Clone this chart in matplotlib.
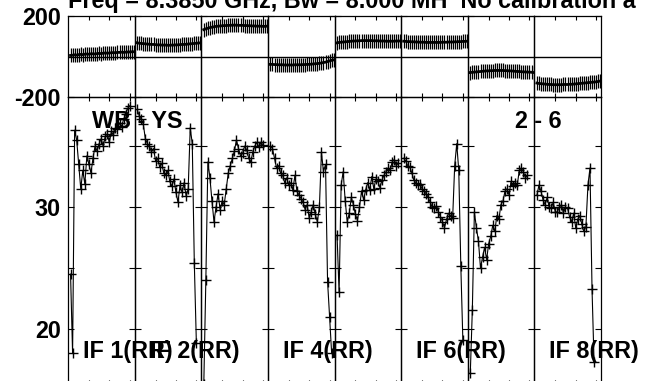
import numpy as np
import matplotlib
matplotlib.use("Agg")
from matplotlib import pyplot as plt

plt.rcParams['font.family'] = ['Liberation Sans', 'DejaVu Sans']
plt.rcParams['font.weight'] = 'bold'
plt.rcParams['axes.unicode_minus'] = False

nan = np.nan
chan = np.arange(1, 33)

# phase (deg) per channel, one list per IF
phase_if1 = [6, 7, 9, 8, 10, 11, 10, 12, 13, 12, 14, 14, 13, 15, 16, 15, 17, 18, 17, 18, 19, 20, 19, 21, 21, 22, 21, 22, 23, 23, 24, 24]
phase_if2 = [68, 66, 65, 64, 63, 62, 61, 60, 60, 59, 58, 58, 57, 57, 57, 56, 56, 57, 57, 58, 58, 59, 60, 60, 61, 62, 63, 64, 65, 66, 67, 68]
phase_if3 = [133, 137, 140, 143, 145, 147, 149, 150, 151, 152, 153, 153, 154, 154, 155, 155, 155, 154, 154, 154, 153, 153, 152, 152, 151, 151, 150, 150, 150, 149, 149, 150]
phase_if4 = [-38, -38, -39, -39, -40, -40, -40, -41, -41, -41, -41, -41, -40, -40, -40, -40, -39, -39, -38, -38, -37, -36, -35, -34, -33, -31, -29, -27, -24, -21, -18, -16]
phase_if5 = [68, 70, 71, 72, 73, 74, 75, 76, 77, 77, 78, 78, 79, 79, 79, 79, 79, 79, 78, 78, 78, 77, 77, 77, 76, 76, 76, 76, 76, 77, 77, 77]
phase_if6 = [76, 75, 74, 74, 73, 73, 72, 72, 71, 71, 71, 70, 70, 70, 70, 70, 70, 70, 70, 71, 71, 71, 72, 72, 72, 73, 73, 74, 74, 75, 75, 76]
phase_if7 = [-78, -77, -76, -75, -74, -73, -72, -71, -70, -70, -69, -69, -68, -68, -68, -68, -68, -69, -69, -70, -70, -71, -72, -73, -73, -74, -75, -75, -76, -76, -77, -78]
phase_if8 = [-130, -132, -133, -134, -135, -136, -137, -137, -138, -138, -138, -138, -138, -137, -137, -137, -136, -136, -135, -134, -133, -132, -131, -130, -129, -128, -127, -126, -125, -124, -122, -120]

# amplitude per channel, one list per IF
amp_if1 = [24.5, 18.0, 36.3, 35.5, 33.5, 31.5, 33.0, 31.9, 34.2, 33.5, 32.8, 34.0, 35.0, 34.6, 35.2, 35.6, 35.0, 35.8, 36.0, 35.3, 36.2, 35.9, 36.5, 36.4, 36.9, 36.6, 37.2, 37.6, 38.1, 38.3, nan, nan]
amp_if2 = [38.0, 37.5, 37.2, 36.8, 35.6, 35.2, 35.0, 34.5, 34.8, 33.8, 34.0, 33.3, 33.6, 32.8, 32.6, 33.0, 32.1, 31.7, 32.3, 31.2, 30.4, 31.8, 31.2, 32.0, 30.9, 31.5, 36.5, 35.2, 25.4, 18.9, nan, nan]
amp_if3 = [15.5, 24.0, 33.7, 32.4, 30.5, 28.8, 30.0, 31.1, 29.8, 30.5, 30.2, 31.5, 32.8, 33.4, 34.0, 34.6, 35.5, 34.8, 34.2, 34.4, 35.0, 34.7, 34.0, 33.7, 34.5, 35.0, 35.3, 34.9, 35.3, 35.1, nan, nan]
amp_if4 = [35.0, 34.8, 34.0, 33.2, 33.4, 32.8, 32.6, 32.0, 32.4, 31.8, 32.0, 31.4, 32.6, 31.3, 31.0, 30.7, 30.4, 29.8, 30.2, 29.1, 29.6, 30.2, 29.4, 28.8, 30.0, 34.5, 32.9, 33.5, 23.9, 21.0, 18.0, nan]
amp_if5 = [27.7, 23.0, 31.8, 32.9, 30.5, 28.8, 29.5, 30.8, 30.2, 29.4, 28.9, 30.0, 31.3, 30.6, 31.4, 32.0, 31.4, 32.5, 31.5, 32.3, 32.1, 31.6, 32.2, 32.6, 32.9, 33.2, 33.0, 33.7, 33.9, 33.4, 33.6, nan]
amp_if6 = [34.0, 33.8, 33.4, 33.3, 32.8, 32.2, 32.0, 31.8, 31.9, 31.5, 31.3, 31.1, 30.8, 30.4, 30.0, 29.9, 30.1, 29.6, 29.2, 28.8, 28.3, 29.0, 29.5, 29.3, 29.1, 33.4, 35.2, 33.0, 25.2, 19.1, nan, nan]
amp_if7 = [16.4, 21.6, 29.6, 28.3, 27.2, 25.0, 25.9, 26.7, 25.7, 27.0, 27.6, 28.5, 28.0, 29.3, 29.0, 30.2, 30.5, 31.3, 31.5, 31.0, 32.1, 31.7, 32.0, 31.8, 33.0, 33.2, 32.9, 32.4, 32.6, nan, nan, nan]
amp_if8 = [31.0, 31.8, 31.3, 30.6, 30.2, 30.8, 30.0, 29.9, 30.4, 29.6, 29.6, 30.0, 30.2, 29.5, 30.0, 29.9, 29.2, 28.8, 29.5, 28.3, 29.0, 29.3, 28.6, 28.0, 28.4, 31.8, 33.2, 23.3, 17.3, nan, nan, nan]

phases = [phase_if1, phase_if2, phase_if3, phase_if4, phase_if5, phase_if6, phase_if7, phase_if8]
amps = [amp_if1, amp_if2, amp_if3, amp_if4, amp_if5, amp_if6, amp_if7, amp_if8]
if_labels = ["IF 1(RR)", "IF 2(RR)", "", "IF 4(RR)", "", "IF 6(RR)", "", "IF 8(RR)"]
chan_ticks = [10, 20, 30]
phase_ticks = [-200, 200]
amp_ticks = [20, 30]
amp_minor = [25, 35]

W, H = 645, 381
fig = plt.figure(figsize=(W / 100, H / 100), dpi=100)

x0, pw = 68, 66.625
fs = 16.8
for i in range(8):
    left = (x0 + i * pw) / W
    axp = fig.add_axes([left, 1 - 97.3 / H, pw / W, 81.3 / H])
    axa = fig.add_axes([left, 1 - 384 / H, pw / W, 286.7 / H])
    for ax in (axp, axa):
        ax.set_facecolor('none')
        ax.set_xlim(-0.25, 32.4)
        ax.set_xticks(chan_ticks)
        ax.set_xticklabels([])
        for s in ax.spines.values():
            s.set_linewidth(0.9)
        ax.tick_params(axis='x', direction='in', top=True, bottom=True, length=3, width=0.8)
        ax.tick_params(axis='y', which='both', direction='in', left=True, right=True,
                       length=4, width=0.8, labelsize=fs, pad=5)

    axp.plot(chan, phases[i], color='black', lw=2.0, marker='|', ms=10, mew=0.9)
    axp.axhline(0, color='black', lw=1)
    axp.set_ylim(-200, 200)
    axp.set_yticks(phase_ticks)

    axa.plot(chan, amps[i], color='black', lw=0.8, marker='+', ms=6.5, mew=1.0)
    axa.set_ylim(15.5, 39.0)
    axa.set_yticks(amp_ticks)
    axa.set_yticks(amp_minor, minor=True)

    if i > 0:
        axp.set_yticklabels([])
        axa.set_yticklabels([])
    if if_labels[i]:
        axa.text(0.225, 0.112, if_labels[i], transform=axa.transAxes,
                 fontsize=fs, fontweight='bold', ha='left', va='center')

fig.text(68 / W, 1 - 8.3 / H, "Freq = 8.3850 GHz, Bw = 8.000 MH  No calibration a",
         fontsize=fs, fontweight='bold', ha='left', va='baseline')
fig.text(92 / W, 1 - 122 / H, "WB - YS", fontsize=fs, fontweight='bold', ha='left', va='center')
fig.text(515 / W, 1 - 122 / H, "2 - 6", fontsize=fs, fontweight='bold', ha='left', va='center')

fig.savefig("out.png", dpi=100)
